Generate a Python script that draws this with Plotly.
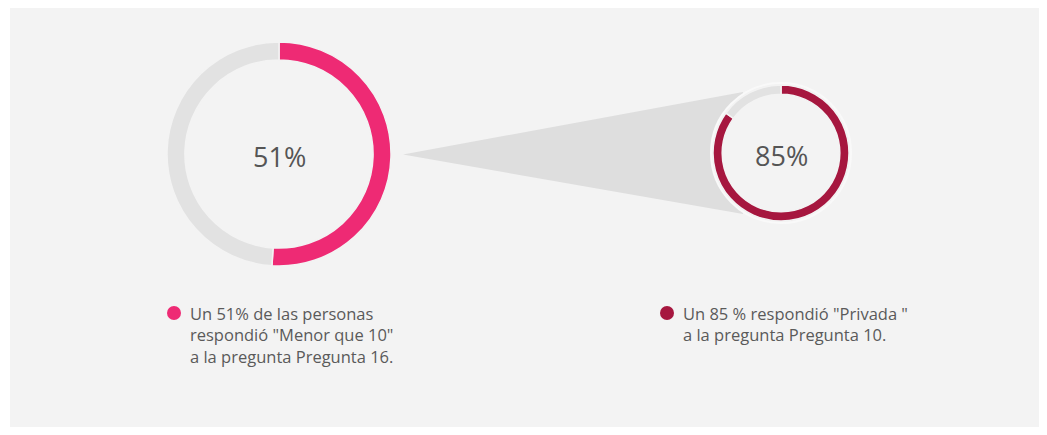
import plotly.graph_objects as go

W, H = 1047, 435
OFF = 8  # body margin of the html page
FW, FH = W - 2 * OFF, H - 2 * OFF

# data
pct_values = [51, 85]
center_labels = ["51%", "85%"]
legend_texts = [
    "Un 51% de las personas<br>respondió \"Menor que 10\"<br>a la pregunta Pregunta 16.",
    "Un 85 % respondió \"Privada \"<br>a la pregunta Pregunta 10.",
]
slice_colors = ["#EE2A74", "#A6173F"]
rest_color = "#E2E2E2"
bg = "#F3F3F3"

# donut geometry in pixels: center x, center y, outer radius, hole
donuts = [
    dict(cx=279, cy=154, r=112, hole=0.84),
    dict(cx=781, cy=153, r=68, hole=0.865),
]


def px_x(x):
    return (x - OFF) / FW


def px_y(y):
    return 1 - (y - OFF) / FH


fig = go.Figure()

for val, col, d in zip(pct_values, slice_colors, donuts):
    fig.add_trace(
        go.Pie(
            values=[val, 100 - val],
            marker=dict(colors=[col, rest_color], line=dict(color=bg, width=1.5)),
            hole=d["hole"],
            sort=False,
            direction="clockwise",
            rotation=0,
            textinfo="none",
            hoverinfo="skip",
            showlegend=False,
            domain=dict(
                x=[px_x(d["cx"] - d["r"]), px_x(d["cx"] + d["r"])],
                y=[px_y(d["cy"] + d["r"]), px_y(d["cy"] - d["r"])],
            ),
        )
    )

shapes = []
# panel background
shapes.append(dict(type="rect", xref="paper", yref="paper", x0=px_x(10), x1=px_x(1046),
                   y0=px_y(433), y1=px_y(5), fillcolor=bg, line=dict(width=0), layer="below"))

# zoom wedge from left donut to right donut
d0, d1 = donuts
tip_x = d0["cx"] + d0["r"] + 12
wedge_x = d1["cx"] - 38
path = "M {} {} L {} {} L {} {} Z".format(
    px_x(tip_x), px_y(d0["cy"] + 0.5),
    px_x(wedge_x), px_y(d1["cy"] - 61),
    px_x(wedge_x), px_y(d1["cy"] + 61),
)
shapes.append(dict(type="path", xref="paper", yref="paper", path=path,
                   fillcolor="#DEDEDE", line=dict(width=0), layer="below"))

# mask behind right donut
rr = d1["r"] + 2
shapes.append(dict(type="circle", xref="paper", yref="paper",
                   x0=px_x(d1["cx"] - rr), x1=px_x(d1["cx"] + rr),
                   y0=px_y(d1["cy"] + rr), y1=px_y(d1["cy"] - rr),
                   fillcolor=bg, line=dict(color="#F9F9F9", width=2), layer="below"))

annotations = []
for lab, d in zip(center_labels, donuts):
    annotations.append(dict(x=px_x(d["cx"]), y=px_y(d["cy"] + 2), xref="paper", yref="paper",
                            text=lab, showarrow=False, xanchor="center", yanchor="middle",
                            font=dict(family="Open Sans", size=27, color="#555555")))

# legend markers + texts
legend_pos = [(174, 313, 188, 300), (667, 313, 681, 300)]
for txt, col, (mx, my, tx, ty) in zip(legend_texts, slice_colors, legend_pos):
    shapes.append(dict(type="circle", xref="paper", yref="paper",
                       x0=px_x(mx - 7), x1=px_x(mx + 7), y0=px_y(my + 7), y1=px_y(my - 7),
                       fillcolor=col, line=dict(width=0)))
    annotations.append(dict(x=px_x(tx), y=px_y(ty), xref="paper", yref="paper",
                            text=txt, showarrow=False, xanchor="left", yanchor="top", align="left",
                            font=dict(family="Open Sans", size=16.5, color="#5A5A5A")))

fig.update_layout(
    width=FW,
    height=FH,
    margin=dict(l=0, r=0, t=0, b=0),
    paper_bgcolor="white",
    plot_bgcolor="white",
    shapes=shapes,
    annotations=annotations,
)

fig.write_html("out.html")
